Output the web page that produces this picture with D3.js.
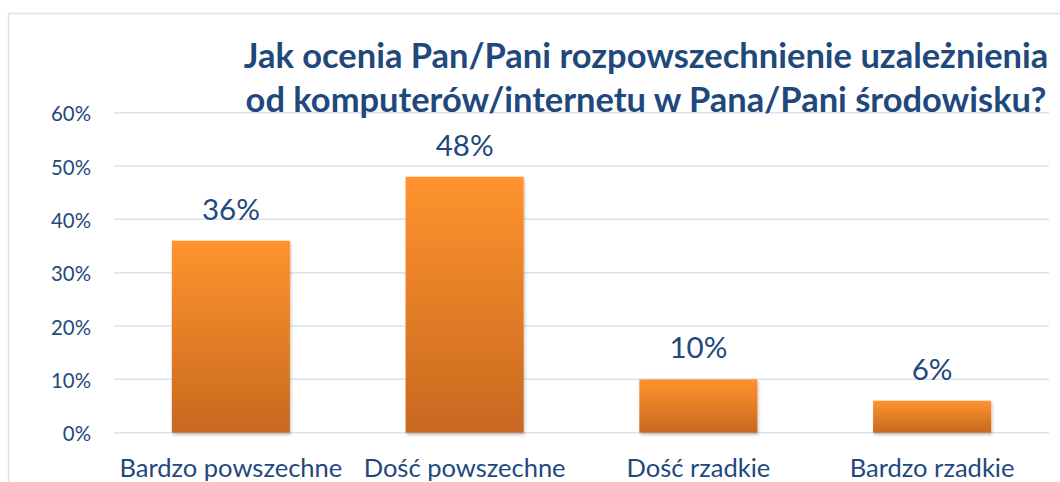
<!DOCTYPE html>
<html><head><meta charset="utf-8">
<script src="https://cdn.jsdelivr.net/npm/d3@7"></script>
<style>
html,body{margin:0;padding:0;background:#fff;}
svg{display:block;}
text{font-family:Lato,"Open Sans",sans-serif;}
</style></head>
<body>
<svg id="c" width="1060" height="482"></svg>
<script>
const categories = ["Bardzo powszechne","Dość powszechne","Dość rzadkie","Bardzo rzadkie"];
const values = [0.36,0.48,0.10,0.06];
const valueLabels = ["36%","48%","10%","6%"];
const yTicks = [0,0.1,0.2,0.3,0.4,0.5,0.6];
const titleLines = ["Jak ocenia Pan/Pani rozpowszechnienie uzależnienia","od komputerów/internetu w Pana/Pani środowisku?"];

const svg = d3.select("#c");
const textColor = "#1F497D";
const W = 1060, H = 482;

// outer border
svg.append("rect").attr("x",8.5).attr("y",13.5).attr("width",1200).attr("height",600)
  .attr("fill","#fff").attr("stroke","#D5E2F4").attr("stroke-width",1.5);

const defs = svg.append("defs");
const grad = defs.append("linearGradient").attr("id","barGrad").attr("x1",0).attr("y1",0).attr("x2",0).attr("y2",1);
grad.append("stop").attr("offset","0%").attr("stop-color","#FF932E");
grad.append("stop").attr("offset","100%").attr("stop-color","#C86820");
const f = defs.append("filter").attr("id","sh").attr("x","-10%").attr("y","-10%").attr("width","130%").attr("height","130%");
f.append("feDropShadow").attr("dx",1).attr("dy",2).attr("stdDeviation",1.5).attr("flood-color","#000").attr("flood-opacity",0.25);

const y = d3.scaleLinear().domain([0,0.6]).range([432.7,112.7]);
const x = d3.scaleBand().domain(categories).range([114,1049]).padding(0);
const barW = x.bandwidth()*0.505;

function fit(sel, target){
  sel.each(function(){
    const t = d3.select(this);
    const w = this.getComputedTextLength();
    const fs = parseFloat(t.attr("font-size"));
    t.attr("font-size", fs*target/w);
  });
}
function fitGroup(sel, refNode, target){
  const w = refNode.getComputedTextLength();
  const fs = parseFloat(d3.select(refNode).attr("font-size"));
  sel.attr("font-size", fs*target/w);
}

// gridlines
svg.append("g").selectAll("line").data(yTicks).join("line")
  .attr("x1",114).attr("x2",1049).attr("y1",d=>y(d)).attr("y2",d=>y(d))
  .attr("stroke","#D9E4F3").attr("stroke-width",1.5);

// y axis labels
const yAxis = svg.append("g").attr("transform","translate(91,0)")
  .call(d3.axisLeft(y).tickValues(yTicks).tickFormat(d3.format(".0%")).tickSize(0).tickPadding(0));
yAxis.select(".domain").remove();
const yt = yAxis.selectAll("text").attr("fill",textColor).attr("font-size",20)
  .attr("font-family","Lato, 'Open Sans', sans-serif").attr("dy",null).attr("dominant-baseline","central");
fitGroup(yt, yt.filter(d=>d===0.6).node(), 40);

// bars
svg.append("g").selectAll("rect").data(values).join("rect")
  .attr("x",(d,i)=>x(categories[i])+(x.bandwidth()-barW)/2)
  .attr("width",barW)
  .attr("y",d=>y(d)).attr("height",d=>y(0)-y(d))
  .attr("fill","url(#barGrad)").attr("filter","url(#sh)");

// value labels
const vl = svg.append("g").selectAll("text").data(values).join("text")
  .attr("x",(d,i)=>x(categories[i])+x.bandwidth()/2)
  .attr("y",d=>y(d)-21)
  .attr("text-anchor","middle").attr("fill",textColor).attr("font-size",30)
  .text((d,i)=>valueLabels[i]);
fitGroup(vl, vl.nodes()[1], 58);

// category labels
const xAxis = svg.append("g").attr("transform","translate(0,432.7)")
  .call(d3.axisBottom(x).tickSize(0).tickPadding(0));
xAxis.select(".domain").remove();
const xt = xAxis.selectAll("text").attr("fill",textColor).attr("font-size",22)
  .attr("font-family","Lato, 'Open Sans', sans-serif").attr("dy",null).attr("y",44.5);
fitGroup(xt, xt.nodes()[0], 223);

// title
const tt = svg.append("g").selectAll("text").data(titleLines).join("text")
  .attr("x",646).attr("y",(d,i)=>68+i*44)
  .attr("text-anchor","middle").attr("fill",textColor).attr("font-weight","bold").attr("font-size",28)
  .text(d=>d);
fitGroup(tt, tt.nodes()[0], 805);
</script>
</body></html>
